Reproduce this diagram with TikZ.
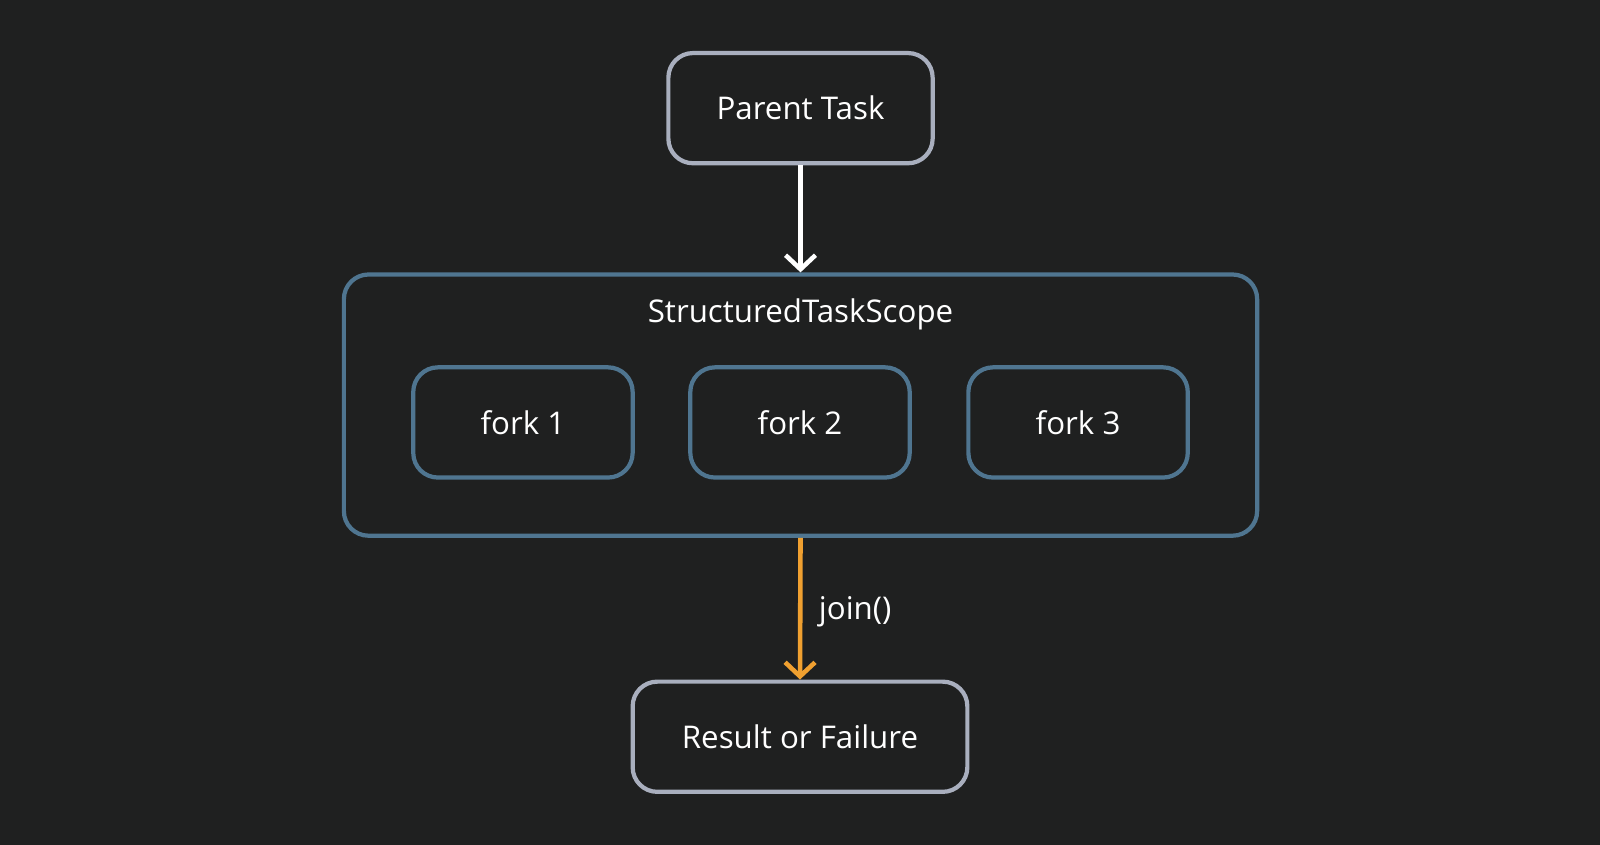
\documentclass[tikz,border=0pt]{standalone}
\usepackage{fontspec}
\setmainfont{Open Sans}
\usetikzlibrary{arrows.meta}
\definecolor{bg}{HTML}{1F2020}
\definecolor{grayb}{HTML}{A9AFBE}
\definecolor{blueb}{HTML}{4F7590}
\definecolor{orng}{HTML}{F0A030}
\begin{document}
\begin{tikzpicture}[x=0.020408cm,y=-0.020408cm,
  lbl/.style={text=white,font=\fontsize{17.8}{20}\selectfont},
  box/.style={draw=#1,line width=2.4pt,rounded corners=14pt,lbl},
  arr/.style={line width=2.6pt,-{Straight Barb[length=8pt,width=17pt,line width=2.6pt]}}]
\fill[bg] (0,0) rectangle (1568,828);
\node[box=grayb,minimum width=259*0.020408cm,minimum height=108*0.020408cm] (parent) at (784.5,106) {Parent Task};
\node[box=blueb,minimum width=895*0.020408cm,minimum height=256*0.020408cm] (scope) at (784.5,397) {};
\node[lbl] (title) at (784.5,308) {StructuredTaskScope};
\node[box=blueb,minimum width=215*0.020408cm,minimum height=108*0.020408cm] (f1) at (512.5,414) {fork 1};
\node[box=blueb,minimum width=215*0.020408cm,minimum height=108*0.020408cm] (f2) at (784,414) {fork 2};
\node[box=blueb,minimum width=215*0.020408cm,minimum height=108*0.020408cm] (f3) at (1056.5,414) {fork 3};
\node[box=grayb,minimum width=328*0.020408cm,minimum height=108*0.020408cm] (res) at (784,722) {Result or Failure};
\draw[arr,white] (parent.south) -- (scope.north);
\draw[arr,orng] (scope.south) -- node[right,lbl,xshift=6pt,yshift=-2pt]{join()} (res.north);
\pgfresetboundingbox
\path[use as bounding box] (0,0) rectangle (1568,828);
\end{tikzpicture}
\end{document}
